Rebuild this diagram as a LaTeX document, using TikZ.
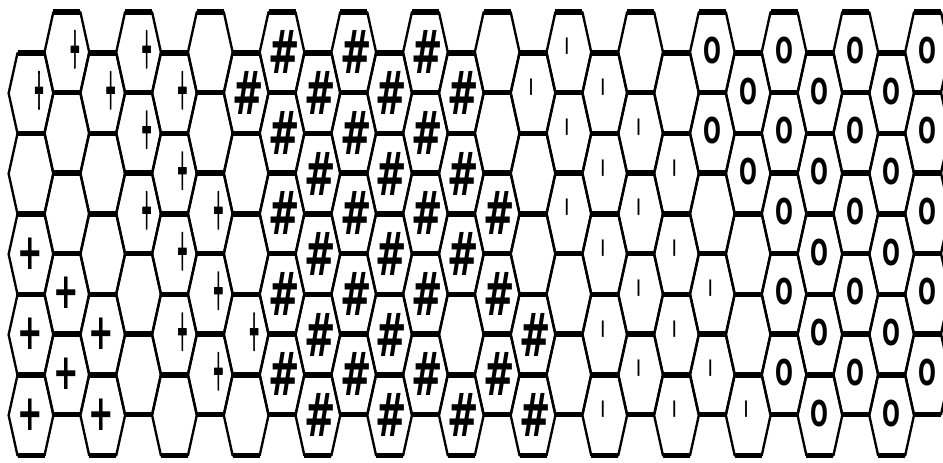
\documentclass[tikz,border=0pt]{standalone}
\usepackage{graphicx}
\usepackage{fontspec}
\setmainfont{DejaVu Sans}
\newfontfamily\crossfont[FakeBold=4]{DejaVu Sans}
\usetikzlibrary{calc}

\begin{document}
\begin{tikzpicture}[x=0.03cm, y=-0.03cm,
        slant/.style={line width=2pt, line cap=round},
        flat/.style={line width=4.3pt},
        glyph/.style={inner sep=0pt, font=\bfseries},
        sym e/.style={glyph, node contents={}},
        sym c/.style={glyph, font=\crossfont, xshift=0.24cm, yshift=0.09cm, node contents={\scalebox{0.32}[1.45]{\fontsize{34}{34}\selectfont +}}},
        sym p/.style={glyph, xshift=-0.03cm, yshift=0.03cm, node contents={\scalebox{1}[1.65]{\fontsize{26}{26}\selectfont +}}},
        sym h/.style={glyph, xshift=0.06cm, node contents={\scalebox{1}[1.6]{\fontsize{32}{32}\selectfont \#}}},
        sym v/.style={glyph, xshift=-0.06cm, yshift=0.18cm, node contents={\fontsize{14}{14}\selectfont |}},
        sym o/.style={glyph, yshift=0.06cm, node contents={\scalebox{0.62}[1.05]{\fontsize{29}{29}\selectfont O}}}]

        \useasboundingbox[fill=white] (0,0) rectangle (943,462);
        \clip (0,0) rectangle (943,462);

        % Hexagon columns, rows top to bottom
        \foreach \c/\col in {0/{c,e,p,p,p}, 1/{c,e,e,p,p}, 2/{c,e,e,p,p}, 3/{c,c,c,e,e},
                4/{c,c,c,c,e}, 5/{e,e,c,c,c}, 6/{h,e,e,c,e}, 7/{h,h,h,h,h},
                8/{h,h,h,h,h}, 9/{h,h,h,h,h}, 10/{h,h,h,h,h}, 11/{h,h,h,h,h},
                12/{h,h,h,e,h}, 13/{e,e,h,h,h}, 14/{v,e,e,h,h}, 15/{v,v,v,e,e},
                16/{v,v,v,v,v}, 17/{e,v,v,v,v}, 18/{e,v,v,v,v}, 19/{o,o,e,v,v},
                20/{o,o,e,e,v}, 21/{o,o,o,o,o}, 22/{o,o,o,o,o}, 23/{o,o,o,o,o},
                24/{o,o,o,o,o}, 25/{o,o,o,o,o}}{
            \pgfmathsetmacro{\xc}{31+35.86*\c}
            \pgfmathsetmacro{\yt}{isodd(\c) ? 52.25 : 93.25}
            \foreach \s [count=\r from 0] in \col {
                \pgfmathsetmacro{\yc}{\yt+80.5*\r}
                \draw[slant] (\xc-13.5,\yc-40.25) -- (\xc-22.36,\yc) -- (\xc-13.5,\yc+40.25)
                    (\xc+13.5,\yc-40.25) -- (\xc+22.36,\yc) -- (\xc+13.5,\yc+40.25);
                \draw[flat] (\xc-13.5,\yc-40.25) -- (\xc+13.5,\yc-40.25)
                    (\xc-13.5,\yc+40.25) -- (\xc+13.5,\yc+40.25);
                \node (h\c-\r) at (\xc,\yc) [sym \s];
            }
        }

    \end{tikzpicture}
\end{document}
